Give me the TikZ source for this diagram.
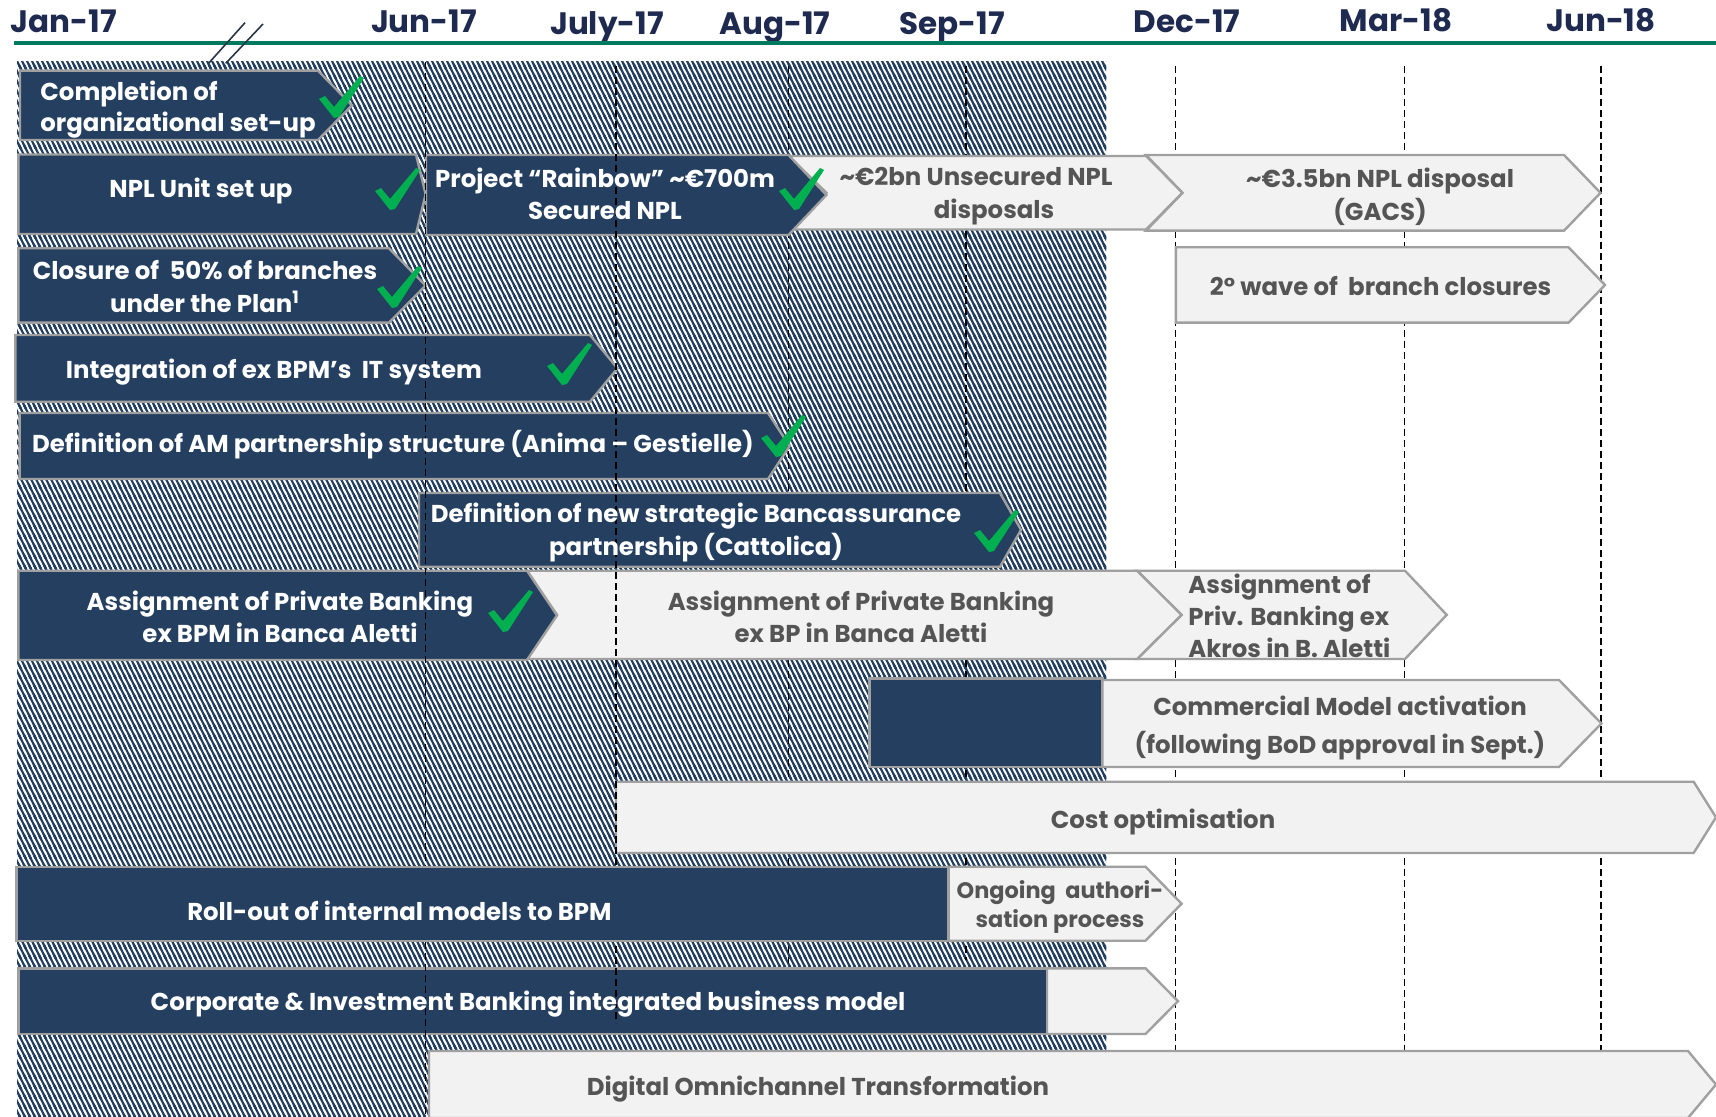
\documentclass[tikz,border=0pt]{standalone}
\usepackage{fontspec}
\setmainfont{Poppins}
\usetikzlibrary{patterns.meta}
\definecolor{navy}{RGB}{36,63,96}
\definecolor{hdrnavy}{RGB}{31,42,80}
\definecolor{greenline}{RGB}{0,122,94}
\definecolor{lightfill}{RGB}{242,242,242}
\definecolor{bordergrey}{RGB}{160,160,160}
\definecolor{txtgrey}{RGB}{85,85,85}
\definecolor{checkgreen}{RGB}{0,176,80}
\definecolor{brkcol}{RGB}{40,55,70}
\tikzdeclarepattern{
  name=hatchnw,
  type=uncolored,
  bottom left={(-1pt,-1pt)},
  top right={(3.5pt,6pt)},
  tile size={(2.5pt,5pt)},
  code={
    \draw[line width=1.1pt] (-0.5pt,6pt) -- (3pt,-1pt);
    \draw[line width=1.1pt] (-0.75pt,1.5pt) -- (0.75pt,-1.5pt);
    \draw[line width=1.1pt] (1.75pt,6.5pt) -- (3.25pt,3.5pt);
  }
}
\newcommand\chevbox[7]{%
  \path[#1] (#2,#6) -- (#4,#6) -- (#5,{(#6+#7)/2}) -- (#4,#7) -- (#2,#7) -- (#3,{(#6+#7)/2}) -- cycle;}
\newcommand\barfont[1]{\fontsize{12.2}{#1}\selectfont\bfseries}
\tikzset{
  darkbox/.style={fill=navy, draw=bordergrey, line width=1.2pt, line join=miter},
  lightbox/.style={fill=lightfill, draw=bordergrey, line width=1.2pt, line join=miter},
  hdr/.style={text=hdrnavy, font=\fontsize{15.5}{18}\selectfont\bfseries, anchor=base, inner sep=0pt},
  wtxt/.style={text=white, font=\barfont{16.4}, align=center, inner sep=0pt},
  gtxt/.style={text=txtgrey, font=\barfont{16.4}, align=center, inner sep=0pt},
  vdash/.style={draw=black, line width=0.8pt, dash pattern=on 3.5pt off 2pt},
  brk/.style={draw=brkcol, line width=0.8pt},
  okmark/.pic={\fill[checkgreen] (1,0) -- (-14,-19) -- (-8,-22) -- (1,-11) -- (27,-42) -- (31,-40) -- (6,-1) -- cycle;}
}
\begin{document}
\begin{tikzpicture}[x=0.5pt,y=-0.5pt]
\useasboundingbox (0,0) rectangle (1716,1117);
\clip (0,0) rectangle (1716,1117);
\fill[white] (0,0) rectangle (1716,1117);
% header
\node[hdr] (hjan) at (64,33) {Jan-17};
\node[hdr] (hjun) at (424,33) {Jun-17};
\node[hdr] (hjul) at (607,35) {July-17};
\node[hdr] (haug) at (775,35) {Aug-17};
\node[hdr] (hsep) at (952,35) {Sep-17};
\node[hdr] (hdec) at (1187,33) {Dec-17};
\node[hdr] (hmar) at (1396,32) {Mar-18};
\node[hdr] (hjun18) at (1601,32) {Jun-18};
\coordinate (gl0) at (14,43);
\coordinate (gl1) at (1716,43);
\draw[greenline, line width=2.3pt] (gl0) -- (gl1);
% hatched period
\fill[pattern=hatchnw, pattern color=navy] (17,62) rectangle (1106,1117);
% break marks
\coordinate (b1s) at (208.6,63.3); \coordinate (b1e) at (245,22.7);
\coordinate (b2s) at (225.8,63.3); \coordinate (b2e) at (263,24);
\draw[brk] (b1s) -- (b1e);
\draw[brk] (b2s) -- (b2e);
% dashed month lines behind the bars
\foreach \xx/\yy in {788.5/963, 966/960, 1175.5/1050, 1404.5/1050, 1601/1050}
  \draw[vdash] (\xx,66) -- (\xx,\yy);
% bars
\chevbox{darkbox}{20}{20}{318}{352}{70.7}{140}
\chevbox{darkbox}{18.4}{18.4}{416}{425.6}{154.5}{234}
\chevbox{lightbox}{788.5}{826.4}{1146}{1182.6}{156}{229.5}
\chevbox{lightbox}{1146}{1182.6}{1564}{1600.5}{155}{230.7}
\chevbox{darkbox}{426}{426}{788.5}{826.4}{155}{235}
\chevbox{darkbox}{18.4}{18.4}{389}{425.6}{248.3}{322.7}
\chevbox{lightbox}{1175.8}{1175.8}{1568.5}{1605}{247.3}{322.7}
\chevbox{darkbox}{15.4}{15.4}{590}{617.5}{335}{401.7}
\chevbox{darkbox}{19.6}{19.6}{768}{789.5}{413}{479}
\chevbox{darkbox}{419}{419}{1000}{1021}{493}{566.7}
\chevbox{lightbox}{1137}{1181.5}{1405}{1446.7}{570.7}{659}
\chevbox{lightbox}{527}{557}{1137}{1181.5}{570.7}{659}
\chevbox{darkbox}{18.4}{18.4}{527}{557}{570.7}{660}
\path[darkbox] (869.3,678.3) rectangle (1102.5,766.7);
\chevbox{lightbox}{1102.5}{1102.5}{1559}{1601.4}{680}{767}
\chevbox{lightbox}{616}{616}{1693.6}{1716}{781.7}{853}
\chevbox{lightbox}{1047}{1047}{1145.5}{1178}{968.3}{1034}
\path[darkbox] (18.6,968.3) rectangle (1047,1034);
\chevbox{lightbox}{429}{429}{1688}{1716}{1051}{1118}
% dashed month lines on top
\draw[vdash] (425.6,62) -- (425.6,1117);
\draw[vdash] (616,66) -- (616,1023);
% roll-out row (covers the lines)
\chevbox{lightbox}{948.6}{948.6}{1145.5}{1181.6}{866.7}{940.7}
\path[darkbox] (16.4,866.7) rectangle (948.6,940.7);
% texts
\node[wtxt, align=left, anchor=west, font=\barfont{15.9}] (t1) at (40,109.6) {Completion of\\organizational set-up};
\node[wtxt, anchor=base] (t2) at (201,198) {NPL Unit set up};
\node[wtxt] (t3) at (605,193.8) {Project “Rainbow” \textasciitilde€700m\\Secured NPL};
\node[gtxt] (t4) at (976,196.5) {\textasciitilde€2bn Unsecured NPL\\\hspace*{18pt}disposals};
\node[gtxt] (t5) at (1380,196.5) {\textasciitilde€3.5bn NPL disposal\\(GACS)};
\node[wtxt] (t6) at (205,286.5) {Closure of\ \ 50\% of branches\\under the Plan\textsuperscript{1}};
\node[gtxt, anchor=base] (t7) at (1380.6,295.5) {2° wave of\ \ branch closures};
\node[wtxt, anchor=base] (t8) at (274,378) {Integration of ex BPM’s\ \ IT system};
\node[wtxt, anchor=base] (t9) at (393,452) {Definition of AM partnership structure (Anima – Gestielle)};
\node[wtxt, font=\barfont{16.2}] (t10) at (696,532.6) {Definition of new strategic Bancassurance\\partnership (Cattolica)};
\node[wtxt, font=\barfont{16.2}] (t11) at (280,617) {Assignment of Private Banking\\ex BPM in Banca Aletti};
\node[gtxt, font=\barfont{16.2}] (t12) at (861,617) {Assignment of Private Banking\\ex BP in Banca Aletti};
\node[gtxt, align=left, anchor=west, font=\barfont{15.9}] (t13) at (1188,616) {Assignment of\\Priv. Banking ex\\Akros in B. Aletti};
\node[gtxt, font=\barfont{19}] (t14) at (1340,728) {Commercial Model activation\\(following BoD approval in Sept.)};
\node[gtxt, anchor=base] (t15) at (1163,828.5) {Cost optimisation};
\node[wtxt, anchor=base] (t16) at (399.4,920) {Roll-out of internal models to BPM};
\node[gtxt, font=\fontsize{11.2}{14.6}\selectfont\bfseries] (t17) at (1060,907) {Ongoing\ \ authori-\\sation process};
\node[wtxt, anchor=base] (t18) at (528,1010) {Corporate \& Investment Banking integrated business model};
\node[gtxt, anchor=base] (t19) at (818,1095) {Digital Omnichannel Transformation};
% check marks
\pic (c1) at (333,118) {okmark};
\pic (c2) at (389,210) {okmark};
\pic (c3) at (793,210) {okmark};
\pic (c4) at (391,308) {okmark};
\pic (c5) at (561,385) {okmark};
\pic (c6) at (775,457) {okmark};
\pic (c7) at (988,552) {okmark};
\pic (c8) at (502,632) {okmark};
\end{tikzpicture}
\end{document}
